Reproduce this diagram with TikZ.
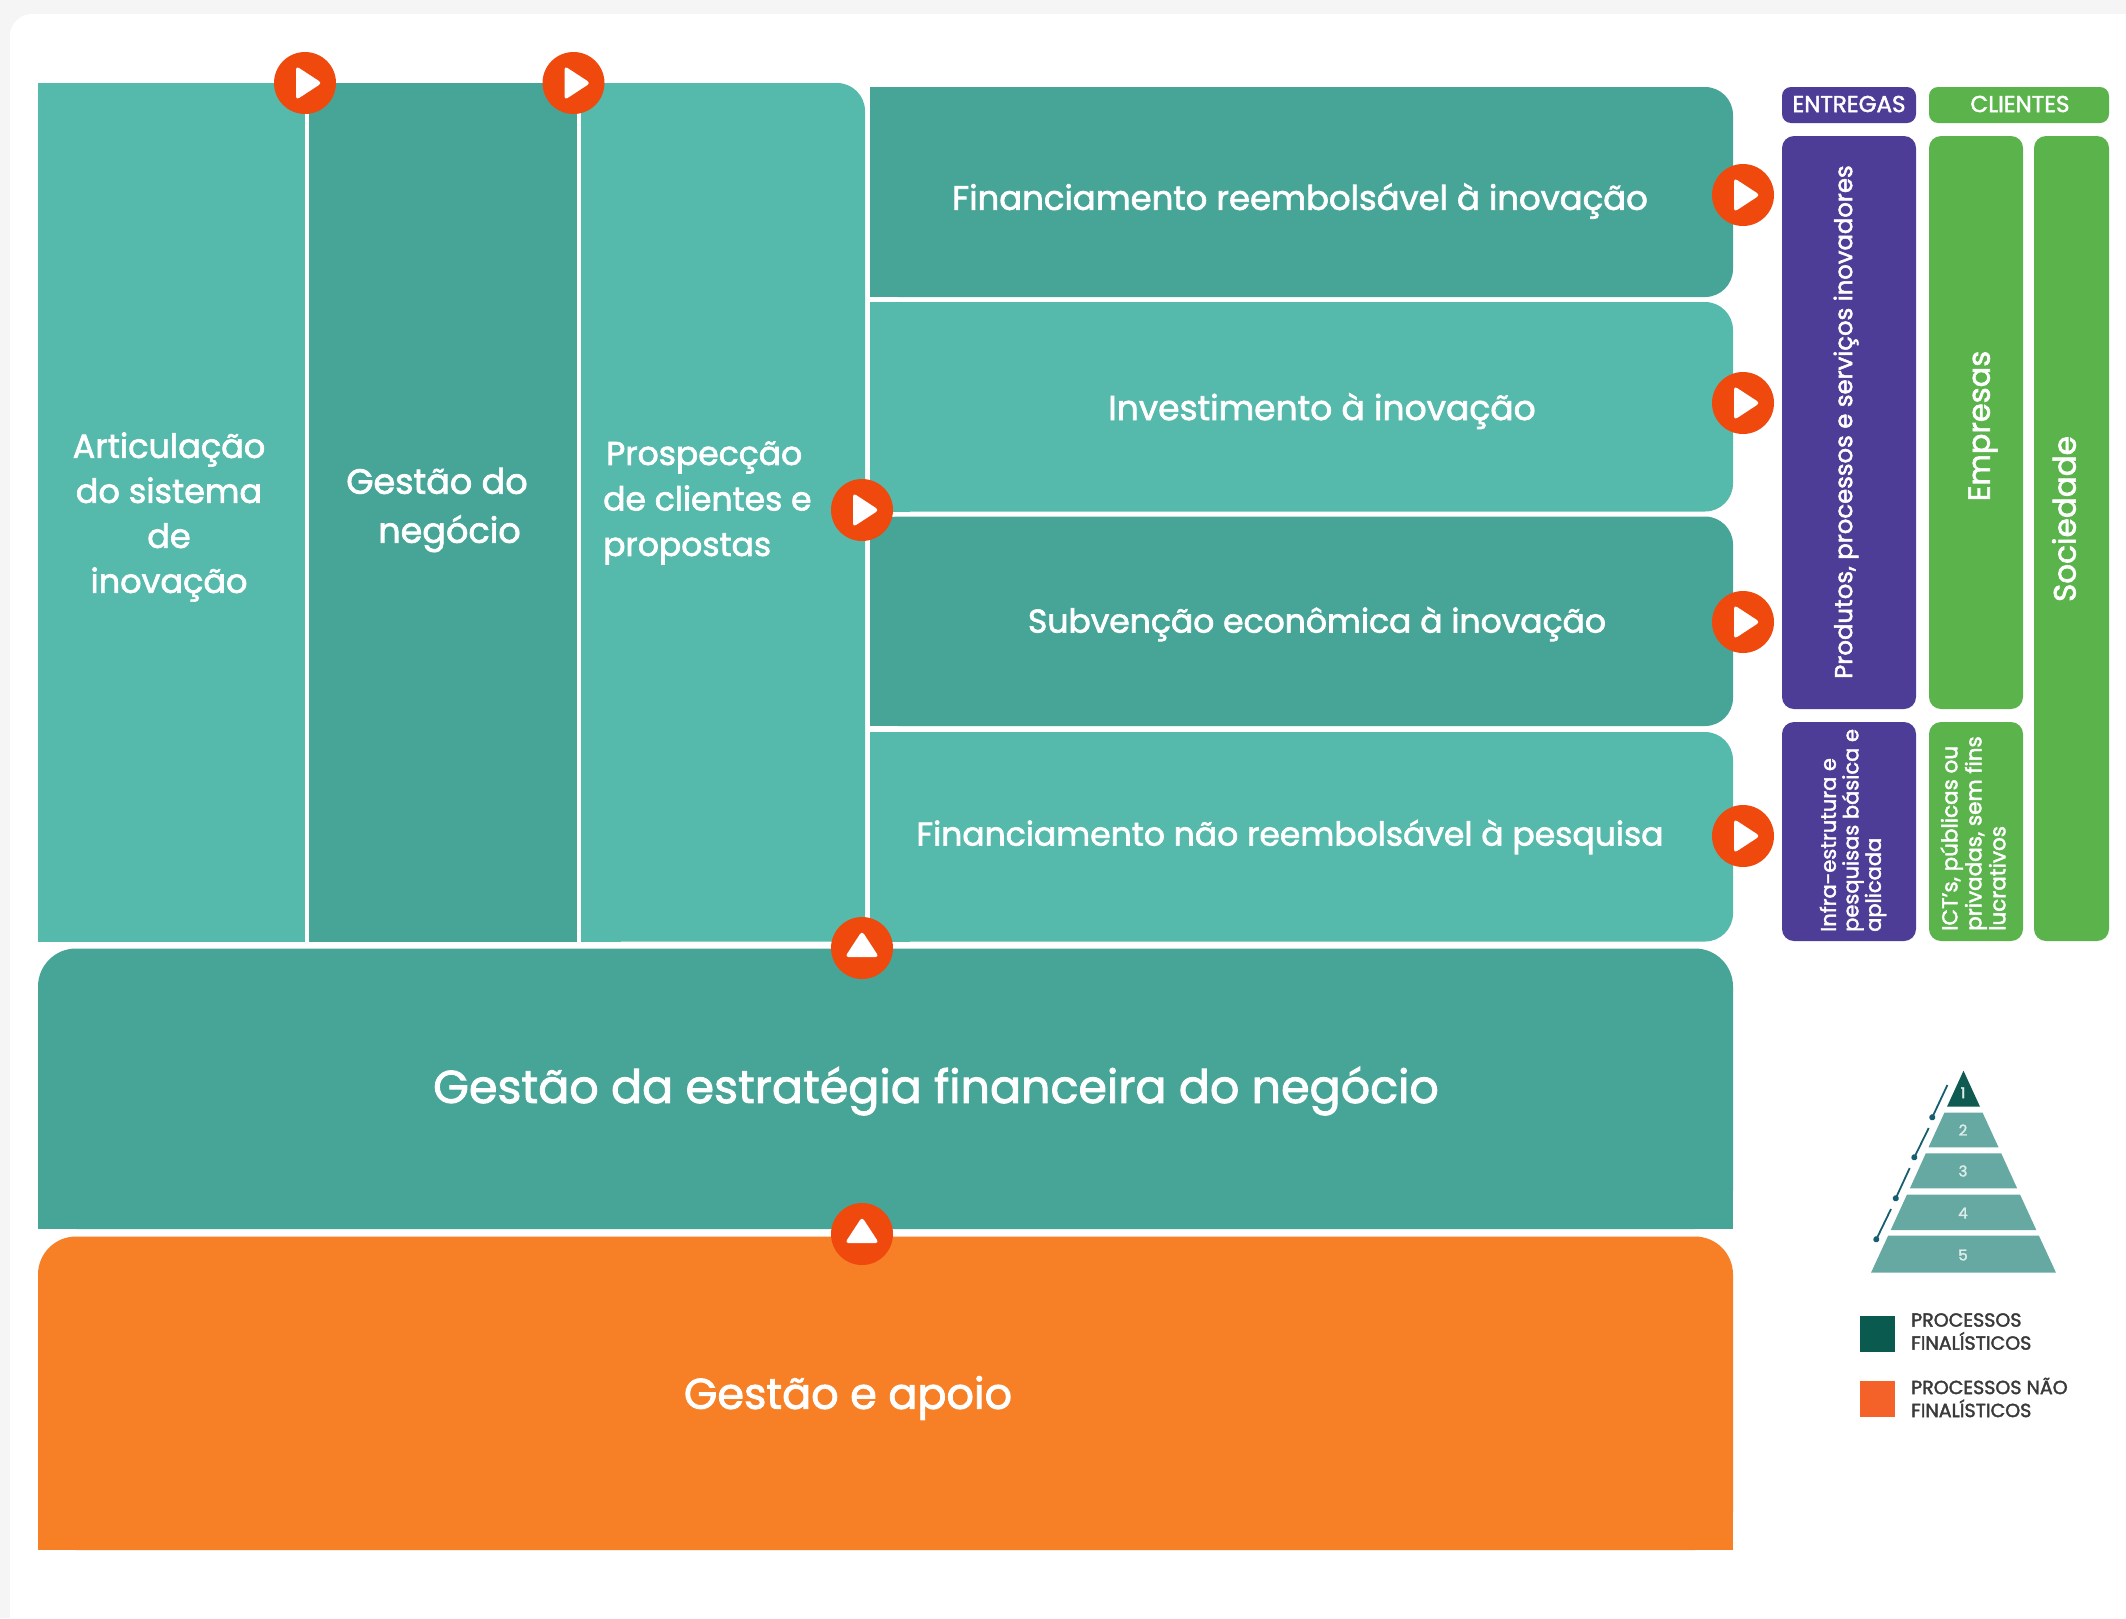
\documentclass[tikz,border=0pt]{standalone}
\usepackage{fontspec}
\setmainfont{Poppins}[FakeBold=2]
\usetikzlibrary{arrows.meta}
\definecolor{pagegray}{HTML}{F5F5F5}
\definecolor{tealL}{HTML}{55B9AC}
\definecolor{tealD}{HTML}{47A598}
\definecolor{orangeM}{HTML}{F77F26}
\definecolor{dotred}{HTML}{F0490E}
\definecolor{purpleM}{HTML}{4E3D96}
\definecolor{greenM}{HTML}{5BB44B}
\definecolor{tierM}{HTML}{66A8A2}
\definecolor{tierD}{HTML}{0F5B52}
\definecolor{legendD}{HTML}{0A5A50}
\definecolor{legendO}{HTML}{F4622A}
\definecolor{legendT}{HTML}{3A3A3A}
\definecolor{arrowB}{HTML}{175F70}
\definecolor{tierT}{HTML}{DCECEA}
% box with rounded right corners and square left side
\newcommand{\rightround}[6]{%
  \fill[#1,rounded corners=#6] (#2,#3) rectangle (#4,#5);
  \fill[#1] (#2,#3) rectangle (#2+40,#5);}
\newcommand{\topround}[6]{%
  \fill[#1,rounded corners=#6] (#2,#3) rectangle (#4,#5);
  \fill[#1] (#2,#3+60) rectangle (#4,#5);}
\tikzset{
  x=1pt,y=-1pt,
  label/.style={text=white,inner sep=0pt,align=center},
  playdot/.style={circle,fill=dotred,minimum size=62pt,inner sep=0pt,
    path picture={\fill[white,rounded corners=3.5pt]
      ([shift={(-9,-17)}]path picture bounding box.center) --
      ([shift={(17,0)}]path picture bounding box.center) --
      ([shift={(-9,17)}]path picture bounding box.center) -- cycle;}},
  updot/.style={circle,fill=dotred,minimum size=62pt,inner sep=0pt,
    path picture={\fill[white,rounded corners=3.5pt]
      ([shift={(0,-17)}]path picture bounding box.center) --
      ([shift={(17,9)}]path picture bounding box.center) --
      ([shift={(-17,9)}]path picture bounding box.center) -- cycle;}},
  tick/.style={arrowB,line width=1.8pt,-{Circle[length=6pt,width=6pt]}},
  tiernum/.style={text=tierT,inner sep=0pt,font=\fontsize{15}{15}\selectfont},
  legendtext/.style={text=legendT,inner sep=0pt,anchor=west,align=left,
    font=\fontsize{19}{23}\selectfont},
}
\begin{document}
\begin{tikzpicture}
\useasboundingbox (0,0) rectangle (2126,1618);
\fill[pagegray] (0,0) rectangle (2126,1618);
\fill[white,rounded corners=22] (10,14) rectangle (2200,1640);

% left columns
\fill[tealL] (38,83) rectangle (304.5,941.5);
\fill[tealD] (308.5,83) rectangle (577,941.5);
\rightround{tealL}{581}{83}{865}{941.5}{28}
% rows
\rightround{tealD}{870}{87}{1733}{297}{28}
\rightround{tealL}{870}{302}{1733}{511.5}{28}
\rightround{tealD}{870}{516.5}{1733}{726}{28}
\rightround{tealL}{870}{732}{1733}{941.5}{28}
% bands
\topround{tealD}{38}{948.5}{1733}{1229}{38}
\topround{orangeM}{38}{1236.5}{1733}{1550}{38}
% entregas / clientes
\fill[purpleM,rounded corners=9] (1782,87) rectangle (1916,123);
\fill[greenM,rounded corners=9] (1929,87) rectangle (2109,123);
\fill[purpleM,rounded corners=12] (1782,136) rectangle (1916,709);
\fill[purpleM,rounded corners=12] (1782,722) rectangle (1916,941);
\fill[greenM,rounded corners=12] (1929,136) rectangle (2023,709);
\fill[greenM,rounded corners=12] (1929,722) rectangle (2023,941);
\fill[greenM,rounded corners=12] (2034,136) rectangle (2109,941);

% texts
\node[label,font=\fontsize{33.5}{45}\selectfont] (art) at (169,517) {Articulação\\do sistema\\de\\inovação};
\node[label,align=left,font=\fontsize{35}{49}\selectfont] (neg) at (437,510) {Gestão do\\\hspace{32pt}negócio};
\node[label,align=left,font=\fontsize{33}{45.5}\selectfont,anchor=west] (pro) at (603,503) {\hspace{3pt}Prospecção\\de clientes e\\propostas};
\node[label,font=\fontsize{33.9}{33}\selectfont] (r1) at (1300,201) {Financiamento reembolsável à inovação};
\node[label,font=\fontsize{34.5}{33}\selectfont] (r2) at (1322,411) {Investimento à inovação};
\node[label,font=\fontsize{33}{33}\selectfont] (r3) at (1317,624) {Subvenção econômica à inovação};
\node[label,font=\fontsize{33}{33}\selectfont] (r4) at (1290,837) {Financiamento não reembolsável à pesquisa};
\node[label,font=\fontsize{46}{44}\selectfont] (est) at (936,1091) {Gestão da estratégia financeira do negócio};
\node[label,font=\fontsize{43}{42}\selectfont] (apo) at (848,1398) {Gestão e apoio};
\node[label,font=\fontsize{23}{21}\selectfont] (ent) at (1849,104) {ENTREGAS};
\node[label,font=\fontsize{23}{21}\selectfont] (cli) at (2020,104) {CLIENTES};
\node[label,rotate=90,font=\fontsize{24.3}{24}\selectfont] (prd) at (1846,422) {Produtos, processos e serviços inovadores};
\node[label,rotate=90,font=\fontsize{30.5}{31}\selectfont] (emp) at (1983,426) {Empresas};
\node[label,rotate=90,font=\fontsize{31}{31}\selectfont] (soc) at (2064,519) {Sociedade};
\node[label,rotate=90,align=left,anchor=west,font=\fontsize{21}{22.5}\selectfont] (inf) at (1853,932) {Infra-estrutura e\\pesquisas básica e\\aplicada};
\node[label,rotate=90,align=left,anchor=west,font=\fontsize{21.5}{24}\selectfont] (ict) at (1973,931) {ICT's, públicas ou\\privadas, sem fins\\lucrativos};

% markers
\node[playdot] (p1) at (305,83) {};
\node[playdot] (p2) at (573.5,83) {};
\node[playdot] (p3) at (862,510) {};
\node[playdot] (p4) at (1743,195) {};
\node[playdot] (p5) at (1743,403) {};
\node[playdot] (p6) at (1743,622) {};
\node[playdot] (p7) at (1743,836) {};
\node[updot] (u1) at (862,948) {};
\node[updot] (u2) at (862,1234) {};

% pyramid
\fill[tierD] (1963.5,1070.7) -- (1980,1106.7) -- (1947,1106.7) -- cycle;
\fill[tierM] (1944.4,1112.7) -- (1982.6,1112.7) -- (1998.5,1147.3) -- (1928.5,1147.3) -- cycle;
\fill[tierM] (1925.8,1153.3) -- (2001.2,1153.3) -- (2017.1,1188.3) -- (1909.9,1188.3) -- cycle;
\fill[tierM] (1906.9,1194.7) -- (2020.1,1194.7) -- (2036.3,1230) -- (1890.7,1230) -- cycle;
\fill[tierM] (1888.1,1235.7) -- (2038.9,1235.7) -- (2056,1272.7) -- (1871,1272.7) -- cycle;
\node[tiernum] (t1) at (1963,1092.7) {1};
\node[tiernum] (t2) at (1963,1130) {2};
\node[tiernum] (t3) at (1963,1171) {3};
\node[tiernum] (t4) at (1963,1213) {4};
\node[tiernum] (t5) at (1963,1255) {5};
\coordinate (a1) at (1947.4,1085); \coordinate (b1) at (1931,1120);
\coordinate (a2) at (1928.7,1128); \coordinate (b2) at (1913,1160);
\coordinate (a3) at (1909.7,1168); \coordinate (b3) at (1894.5,1201);
\coordinate (a4) at (1891,1209);   \coordinate (b4) at (1875,1242);
\draw[tick] (a1) -- (b1);
\draw[tick] (a2) -- (b2);
\draw[tick] (a3) -- (b3);
\draw[tick] (a4) -- (b4);

% legend
\fill[legendD] (1860,1315.7) rectangle (1894.5,1351.7);
\fill[legendO] (1860,1380.7) rectangle (1894.5,1416.7);
\node[legendtext] (l1) at (1911,1331.5) {PROCESSOS\\FINALÍSTICOS};
\node[legendtext] (l2) at (1911,1397.5) {PROCESSOS NÃO\\FINALÍSTICOS};
\end{tikzpicture}
\end{document}
